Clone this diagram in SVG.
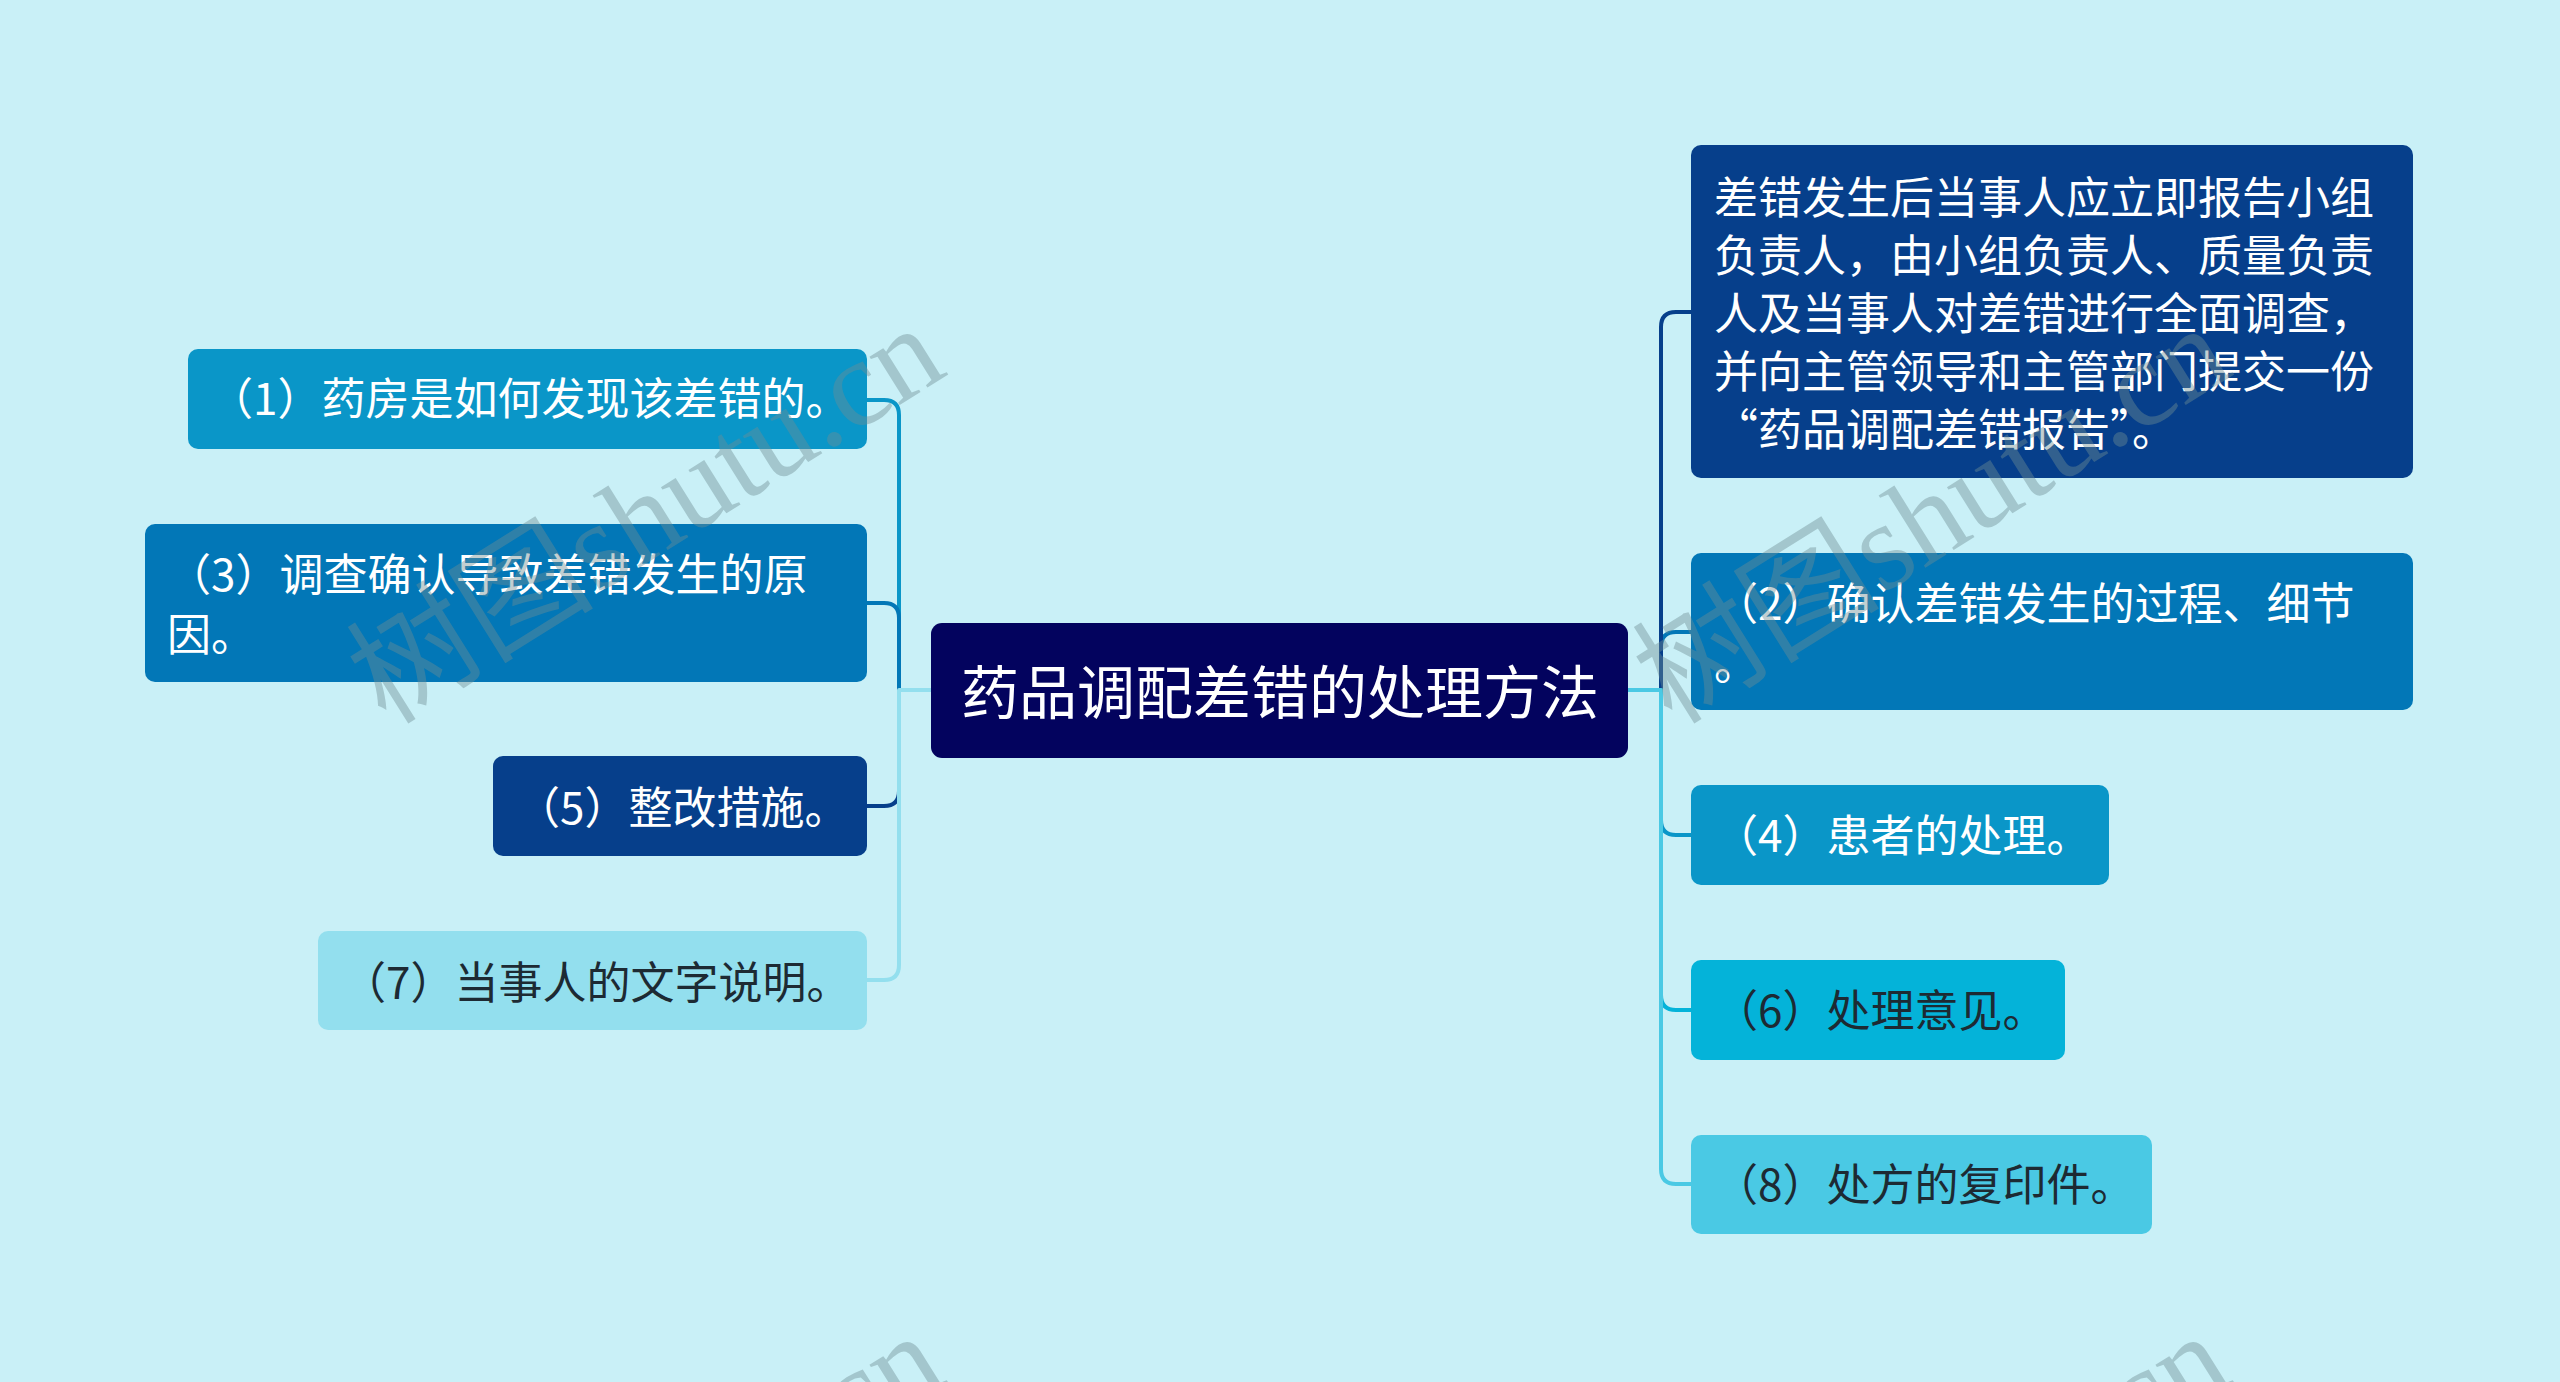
<svg xmlns="http://www.w3.org/2000/svg" width="2560" height="1382" viewBox="0 0 2560 1382">
<style>
.bg{fill:#C9F0F7}
.t{font-family:"Noto Sans CJK SC","Microsoft YaHei",sans-serif;font-size:44px}
.w{fill:#FFFFFF}
.d{fill:#1D2A33}
.c{fill:none;stroke-width:4;stroke-linejoin:round}
.wm{font-family:"Liberation Serif","Noto Sans CJK SC",serif;font-size:124px;fill:#6F8E94;opacity:0.42}
</style>
<rect class="bg" x="0" y="0" width="2560" height="1382"/>
<g id="connectors">
<path class="c" stroke="#0A96C8" d="M931,690 H899 V415 Q899,400 884,400 H867"/>
<path class="c" stroke="#0277B7" d="M931,690 H899 V618 Q899,603 884,603 H867"/>
<path class="c" stroke="#063F8B" d="M931,690 H899 V791 Q899,806 884,806 H867"/>
<path class="c" stroke="#93DFEE" d="M931,690 H899 V965 Q899,980 884,980 H867"/>
<path class="c" stroke="#0277B7" d="M1628,690 H1661 V647 Q1661,632 1676,632 H1691"/>
<path class="c" stroke="#063F8B" d="M1628,690 H1661 V327 Q1661,312 1676,312 H1691"/>
<path class="c" stroke="#0A96C8" d="M1628,690 H1661 V820 Q1661,835 1676,835 H1691"/>
<path class="c" stroke="#04B3D9" d="M1628,690 H1661 V995 Q1661,1010 1676,1010 H1691"/>
<path class="c" stroke="#4AC9E4" d="M1628,690 H1661 V1169 Q1661,1184 1676,1184 H1691"/>
</g>
<g id="center">
<rect x="931" y="623" width="697" height="135" rx="11" fill="#03035E"/>
<text class="t w" x="1280" y="714" text-anchor="middle" style="font-size:58px">药品调配差错的处理方法</text>
</g>
<g id="n1">
<rect x="188" y="349" width="679" height="100" rx="10" fill="#0A96C8"/>
<text class="t w" x="209" y="415">（1）药房是如何发现该差错的。</text>
</g>
<g id="n3">
<rect x="145" y="524" width="722" height="158" rx="10" fill="#0277B7"/>
<text class="t w" x="167" y="591">（3）调查确认导致差错发生的原</text>
<text class="t w" x="167" y="651">因。</text>
</g>
<g id="n5">
<rect x="493" y="756" width="374" height="100" rx="10" fill="#063F8B"/>
<text class="t w" x="516" y="824">（5）整改措施。</text>
</g>
<g id="n7">
<rect x="318" y="931" width="549" height="99" rx="10" fill="#93DFEE"/>
<text class="t d" x="342" y="999">（7）当事人的文字说明。</text>
</g>
<g id="ntop">
<rect x="1691" y="145" width="722" height="333" rx="10" fill="#063F8B"/>
<text class="t w" x="1714" y="214">差错发生后当事人应立即报告小组</text>
<text class="t w" x="1714" y="272">负责人，由小组负责人、质量负责</text>
<text class="t w" x="1714" y="330">人及当事人对差错进行全面调查，</text>
<text class="t w" x="1714" y="388">并向主管领导和主管部门提交一份</text>
<text class="t w" x="1714" y="446">“药品调配差错报告”。</text>
</g>
<g id="n2">
<rect x="1691" y="553" width="722" height="157" rx="10" fill="#0277B7"/>
<text class="t w" x="1714" y="620">（2）确认差错发生的过程、细节</text>
<text class="t w" x="1714" y="680">。</text>
</g>
<g id="n4">
<rect x="1691" y="785" width="418" height="100" rx="10" fill="#0A96C8"/>
<text class="t w" x="1714" y="852">（4）患者的处理。</text>
</g>
<g id="n6">
<rect x="1691" y="960" width="374" height="100" rx="10" fill="#04B3D9"/>
<text class="t d" x="1714" y="1027">（6）处理意见。</text>
</g>
<g id="n8">
<rect x="1691" y="1135" width="461" height="99" rx="10" fill="#4AC9E4"/>
<text class="t d" x="1714" y="1201">（8）处方的复印件。</text>
</g>
<g id="watermark">
<text class="wm" transform="translate(386,726) rotate(-32)">树图shutu.cn</text>
<text class="wm" transform="translate(1672,726) rotate(-32)">树图shutu.cn</text>
<text class="wm" transform="translate(386,1734) rotate(-32)">树图shutu.cn</text>
<text class="wm" transform="translate(1672,1734) rotate(-32)">树图shutu.cn</text>
</g>
</svg>
